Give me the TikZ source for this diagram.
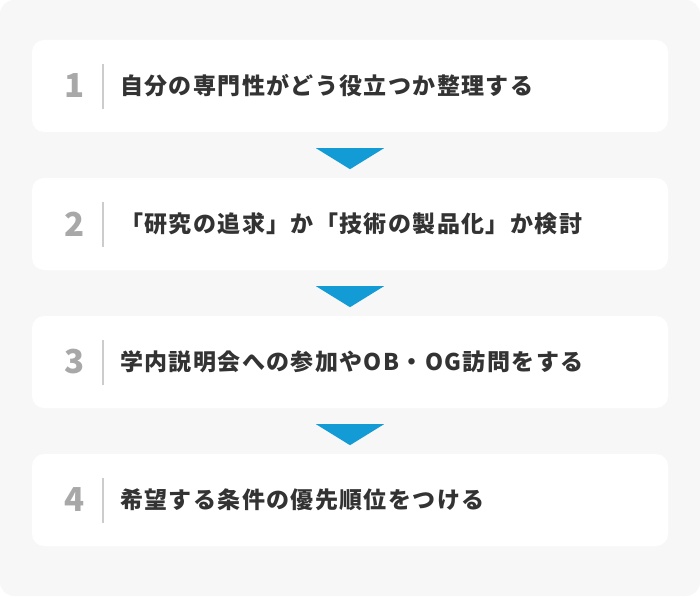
\documentclass[tikz,border=0pt]{standalone}
\usepackage{fontspec}
\usetikzlibrary{calc}
\newfontfamily\jpfont{Noto Sans CJK JP}[LetterSpace=6]
\newfontfamily\numfont{Noto Sans CJK JP}
\definecolor{pagebg}{HTML}{F7F7F7}
\definecolor{flowblue}{HTML}{139BD6}
\definecolor{numgray}{HTML}{A8A8A8}
\definecolor{rulegray}{HTML}{CCCCCC}
\definecolor{inkdark}{HTML}{333333}
\tikzset{
  stepbox/.style={fill=white, rounded corners=12pt, minimum width=636pt, minimum height=92pt, inner sep=0pt},
  stepnum/.style={font=\numfont\bfseries\fontsize{33}{36}\selectfont, text=numgray, inner sep=0pt},
  steplabel/.style={font=\jpfont\bfseries\fontsize{23}{27}\selectfont, text=inkdark, anchor=west, inner sep=0pt},
  divider/.style={draw=rulegray, line width=1.5pt},
  downarrow/.style={fill=flowblue}
}
\begin{document}
\begin{tikzpicture}[x=1pt,y=-1pt]
\fill[pagebg, rounded corners=14pt] (0,0) rectangle (700,596);
\useasboundingbox (0,0) rectangle (700,596);
\foreach \i/\y/\t in {
  1/86/{自分の専門性がどう役立つか整理する},
  2/224/{「研究の追求」か「技術の製品化」か検討},
  3/362/{学内説明会への参加やOB・OG訪問をする},
  4/500/{希望する条件の優先順位をつける}}
{
  \node[stepbox] (box\i) at (350,\y) {};
  \node[stepnum] (num\i) at (75,\y) {\i};
  \draw[divider] ($(num\i)+(28,-22)$) -- ($(num\i)+(28,23)$);
  \node[steplabel] (label\i) at (120,\y) {\t};
}
\foreach \a/\b in {1/2,2/3,3/4}
  \fill[downarrow] ($(box\a.south)+(-34,16)$) -- ($(box\a.south)+(34,16)$) -- ($(box\a.south)+(0,37)$) -- cycle;
\end{tikzpicture}
\end{document}
